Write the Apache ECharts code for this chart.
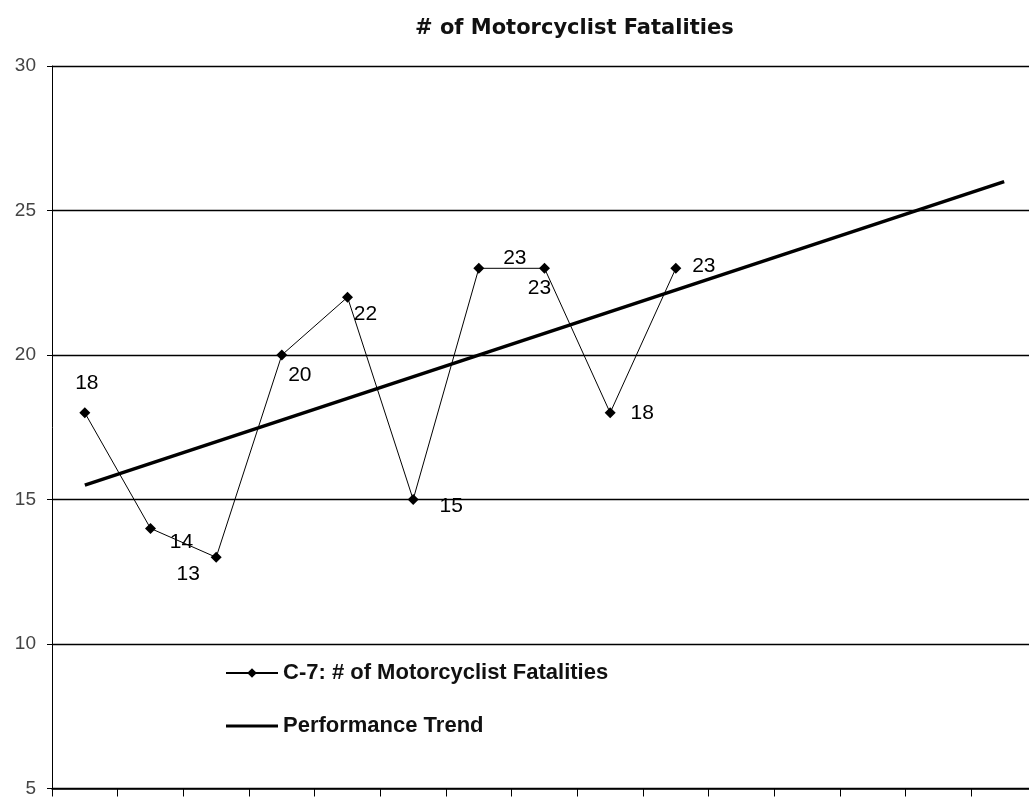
<!DOCTYPE html>
<html>
<head>
<meta charset="utf-8">
<script src="https://cdn.jsdelivr.net/npm/echarts@6/dist/echarts.min.js"></script>
<style>
  html, body { margin: 0; padding: 0; background: #fff; overflow: hidden; }
  /* the plot runs a little past the right edge of the picture, like the source */
  #chart { width: 1037px; height: 798px; }
</style>
</head>
<body>
<div id="chart"></div>
<script>
// 15 category slots on the x axis, labels are cut off in the source
const categories = ['1', '2', '3', '4', '5', '6', '7', '8', '9', '10', '11', '12', '13', '14', '15']
const fatalities = [18, 14, 13, 20, 22, 15, 23, 23, 18, 23]
// trend line: start and end value
const trendStart = 15.5
const trendEnd = 26.0
const yTicks = { min: 5, max: 30, interval: 5 }

// where each value label sits relative to its marker (dx, dy)
const labelOffsets = [
  [2, -30], [31, 14], [-28, 17], [18, 20], [18, 17],
  [38, 7], [36, -10], [-5, 20], [32, 0], [28, -2]
]

// plain thick line for the trend legend entry (tiny dots keep the box 52x12)
const trendIcon = 'path://M0,0L0.01,0L0.01,0.01L0,0.01Z M0,4.6L52,4.6L52,7.4L0,7.4Z M51.99,11.99L52,11.99L52,12L51.99,12Z'

const chart = echarts.init(document.getElementById('chart'))

const seriesData = fatalities.map((v, i) => ({
  value: v,
  label: { offset: labelOffsets[i] }
}))

const option = {
  animation: false,
  backgroundColor: '#fff',
  title: {
    text: '# of Motorcyclist Fatalities',
    left: 410,
    top: 13,
    textStyle: {
      fontFamily: 'DejaVu Sans, sans-serif',
      fontSize: 21,
      fontWeight: 'bold',
      color: '#111'
    }
  },
  legend: {
    orient: 'vertical',
    left: 225,
    top: 662,
    padding: 0,
    itemGap: 31,
    itemWidth: 52,
    itemHeight: 12,
    textStyle: {
      fontFamily: 'Liberation Sans, Arial, sans-serif',
      fontSize: 22,
      fontWeight: 'bold',
      color: '#111'
    },
    data: [
      { name: 'C-7: # of Motorcyclist Fatalities' },
      { name: 'Performance Trend', icon: trendIcon, itemStyle: { color: '#000' } }
    ]
  },
  grid: {
    left: 52,
    top: 66,
    right: 0,
    bottom: 9
  },
  xAxis: {
    type: 'category',
    data: categories,
    boundaryGap: true,
    axisLine: { lineStyle: { color: '#000', width: 1.5 } },
    axisTick: { show: true, length: 8, lineStyle: { color: '#000' } },
    axisLabel: { show: false }
  },
  yAxis: {
    type: 'value',
    min: yTicks.min,
    max: yTicks.max,
    interval: yTicks.interval,
    axisLine: { show: true, lineStyle: { color: '#000' } },
    axisTick: { show: true, length: 5, lineStyle: { color: '#000' } },
    axisLabel: {
      fontFamily: 'Liberation Sans, Arial, sans-serif',
      fontSize: 19,
      color: '#444',
      margin: 16
    },
    splitLine: { lineStyle: { color: '#000', width: 1.3 } }
  },
  series: [
    {
      name: 'C-7: # of Motorcyclist Fatalities',
      type: 'line',
      data: seriesData,
      symbol: 'diamond',
      symbolSize: 11,
      itemStyle: { color: '#000' },
      lineStyle: { color: '#000', width: 1 },
      label: {
        show: true,
        position: 'inside',
        fontFamily: 'Liberation Sans, Arial, sans-serif',
        fontSize: 21,
        color: '#000'
      },
      z: 3
    },
    {
      name: 'Performance Trend',
      type: 'line',
      data: [[categories[0], trendStart], [categories[14], trendEnd]],
      symbol: 'none',
      lineStyle: { color: '#000', width: 3.5 },
      itemStyle: { color: '#000' },
      z: 2
    }
  ]
}

chart.setOption(option)
</script>
</body>
</html>
